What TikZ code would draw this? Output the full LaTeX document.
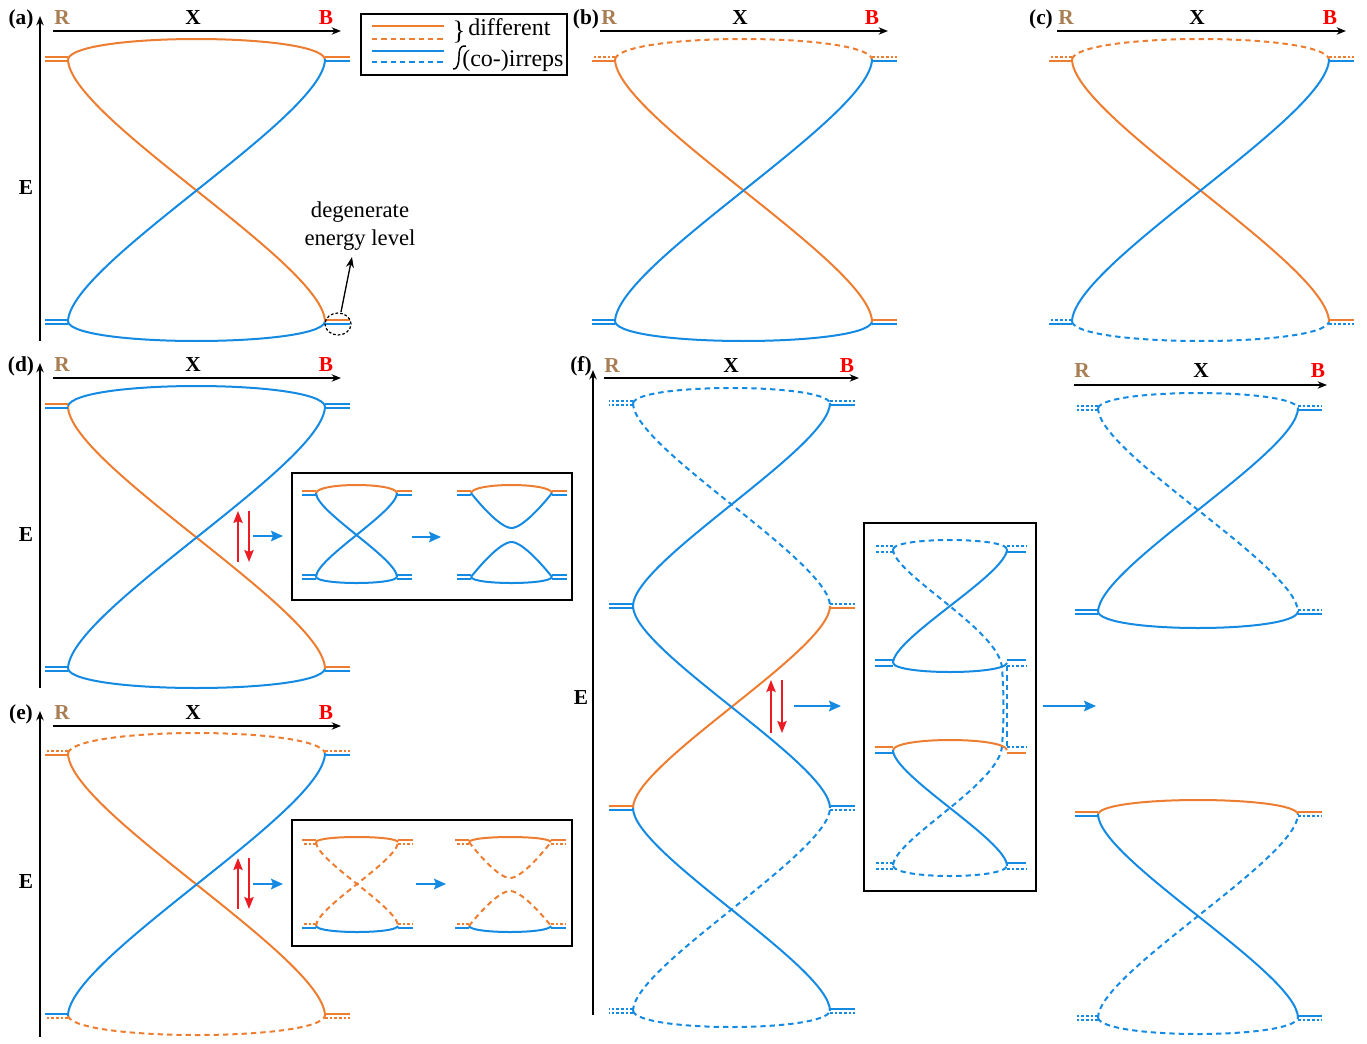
\documentclass[tikz,border=0pt]{standalone}
\usepackage{fontspec}
\setmainfont{Liberation Serif}
\usetikzlibrary{arrows.meta}
\definecolor{ora}{RGB}{237,125,49}
\definecolor{blu}{RGB}{20,138,226}
\definecolor{brn}{RGB}{168,126,84}
\definecolor{rdd}{RGB}{235,28,36}
\definecolor{bred}{RGB}{255,0,0}
\tikzset{
  os/.style={draw=ora,line width=1.5pt},
  od/.style={draw=ora,line width=1.5pt,dash pattern=on 4pt off 3pt},
  bs/.style={draw=blu,line width=1.5pt},
  bd/.style={draw=blu,line width=1.5pt,dash pattern=on 4pt off 3pt},
  ot/.style={draw=ora,line width=1.25pt},
  oo/.style={draw=ora,line width=1.25pt,dash pattern=on 2pt off 1.5pt},
  bt/.style={draw=blu,line width=1.25pt},
  bo/.style={draw=blu,line width=1.25pt,dash pattern=on 2pt off 1.5pt},
  axisarrow/.style={draw=black,line width=1.2pt,-{Stealth[length=7pt,width=5.5pt]}},
  redarrow/.style={draw=rdd,line width=1.3pt,-{Stealth[length=9pt,width=7pt,inset=1.5pt]}},
  bluearrow/.style={draw=blu,line width=1.2pt,-{Stealth[length=9pt,width=8pt,inset=1.5pt]}},
  lab/.style={font=\fontsize{16}{18}\selectfont\bfseries,inner sep=0pt},
  boxframe/.style={draw=black,line width=1.5pt},
}
\newcommand\arcT[5]{\draw[#1] (#2,#4) .. controls ({#2+0.03*(#3-#2)},{#4-1.333*(#5)}) and ({#3-0.03*(#3-#2)},{#4-1.333*(#5)}) .. (#3,#4);}
\newcommand\dg[5]{\draw[#1] (#2,#3) .. controls (#2,{#3+0.22*(#5-#3)}) and (#4,{#5-0.22*(#5-#3)}) .. (#4,#5);}
\newcommand\tk[7]{\draw[#6] ({#1},{#2-#5}) -- ++({#3*#4},0); \draw[#7] ({#1},{#2+#5}) -- ++({#3*#4},0);}
\newcommand\hdr[5]{\node[lab,text=brn] (#1R) at (#2,#5) {R}; \node[lab] (#1X) at (#3,#5) {X}; \node[lab,text=bred] (#1B) at (#4,#5) {B};}
\begin{document}
\begin{tikzpicture}[x=0.75pt,y=-0.75pt]
\useasboundingbox (0,0) rectangle (1367,1043);
% ---------------- (a)
\node[lab] (la) at (21,19) {(a)};
\hdr{a}{62}{193}{326}{18}
\node[lab] (Ea) at (26,188) {E};
\draw[axisarrow] (40,341) -- (40,16);
\draw[axisarrow] (53,31) -- (341,31);
\arcT{os}{68}{325}{59}{20}
\arcT{bs}{68}{325}{322}{-19}
\dg{os}{68}{59}{325}{322}
\dg{bs}{68}{322}{325}{59}
\tk{68}{59}{-1}{23}{2.2}{ot}{ot}
\tk{325}{59}{1}{25}{2.2}{ot}{bt}
\tk{68}{322}{-1}{23}{2.2}{bt}{bt}
\tk{325}{322}{1}{25}{2.2}{ot}{bt}
\draw[black,line width=0.9pt,dash pattern=on 2pt off 1.5pt] (338,324) ellipse [x radius=9.75pt, y radius=8.25pt];
\coordinate (circ) at (341,312);
\node[font=\fontsize{17}{21}\selectfont,align=center,inner sep=0pt] (deg) at (360,226) {degenerate\\energy level};
\draw[black,line width=1pt,-{Stealth[length=8pt,width=6pt]}] (circ) -- (352,257);
% legend
\draw[line width=1pt] (361,14) rectangle (567,75);
\draw[os] (372,26) -- (444,26);
\draw[od] (372,39) -- (444,39);
\draw[bs] (372,51) -- (444,51);
\draw[bd] (372,62) -- (444,62);
\node[font=\fontsize{20}{20}\selectfont,inner sep=0pt] (brace) at (459,32) {\}};
\draw[line width=1.1pt] (466,46) .. controls (460,45) and (459,50) .. (459,56) .. controls (459,64) and (457,70) .. (453,69);
\node[font=\fontsize{18}{20}\selectfont,anchor=base west,inner sep=0pt] (ldiff) at (468,35) {different};
\node[font=\fontsize{18}{20}\selectfont,anchor=base west,inner sep=0pt] (lirr) at (462,66) {(co-)irreps};
% ---------------- (b)
\node[lab] (lb) at (586,19) {(b)};
\hdr{b}{609}{740}{872}{18}
\draw[axisarrow] (600,31) -- (888,31);
\arcT{od}{615}{872}{59}{20}
\arcT{bs}{615}{872}{322}{-19}
\dg{os}{615}{59}{872}{322}
\dg{bs}{615}{322}{872}{59}
\tk{615}{59}{-1}{23}{2.2}{oo}{ot}
\tk{872}{59}{1}{25}{2.2}{oo}{bt}
\tk{615}{322}{-1}{23}{2.2}{bt}{bt}
\tk{872}{322}{1}{25}{2.2}{ot}{bt}
% ---------------- (c)
\node[lab] (lc) at (1041,19) {(c)};
\hdr{c}{1066}{1197}{1330}{18}
\draw[axisarrow] (1057,31) -- (1346,31);
\arcT{od}{1072}{1329}{59}{20}
\arcT{bd}{1072}{1329}{322}{-19}
\dg{os}{1072}{59}{1329}{322}
\dg{bs}{1072}{322}{1329}{59}
\tk{1072}{59}{-1}{23}{2.2}{oo}{ot}
\tk{1329}{59}{1}{25}{2.2}{oo}{bt}
\tk{1072}{322}{-1}{23}{2.2}{bo}{bt}
\tk{1329}{322}{1}{25}{2.2}{ot}{bo}
% ---------------- (d)
\node[lab] (ld) at (21,366) {(d)};
\hdr{d}{62}{193}{326}{365}
\node[lab] (Ed) at (26,535) {E};
\draw[axisarrow] (40,688) -- (40,363);
\draw[axisarrow] (53,378) -- (341,378);
\arcT{bs}{68}{325}{406}{20}
\arcT{bs}{68}{325}{669}{-19}
\dg{os}{68}{406}{325}{669}
\dg{bs}{68}{669}{325}{406}
\tk{68}{406}{-1}{23}{2.2}{ot}{bt}
\tk{325}{406}{1}{25}{2.2}{bt}{bt}
\tk{68}{669}{-1}{23}{2.2}{bt}{bt}
\tk{325}{669}{1}{25}{2.2}{ot}{bt}
\draw[redarrow] (238,562) -- (238,511);
\draw[redarrow] (249,511) -- (249,562);
\draw[bluearrow] (253,536) -- (283,536);
\draw[boxframe] (292,473) rectangle (572,600);
\arcT{os}{316}{397}{493}{8}
\arcT{bs}{316}{397}{577}{-6}
\dg{bs}{316}{493}{397}{577}
\dg{bs}{316}{577}{397}{493}
\tk{316}{493}{-1}{14}{1.8}{ot}{bt}
\tk{397}{493}{1}{15}{1.8}{ot}{bt}
\tk{316}{577}{-1}{14}{1.8}{bt}{bt}
\tk{397}{577}{1}{15}{1.8}{bt}{bt}
\draw[bluearrow] (412,537) -- (441,537);
\arcT{os}{471}{552}{493}{8}
\arcT{bs}{471}{552}{577}{-6}
\draw[bs] (471,493) .. controls (478,502) and (500,528) .. (511.5,528) .. controls (523,528) and (545,502) .. (552,493);
\draw[bs] (471,577) .. controls (478,568) and (500,542) .. (511.5,542) .. controls (523,542) and (545,568) .. (552,577);
\tk{471}{493}{-1}{14}{1.8}{ot}{bt}
\tk{552}{493}{1}{15}{1.8}{ot}{bt}
\tk{471}{577}{-1}{14}{1.8}{bt}{bt}
\tk{552}{577}{1}{15}{1.8}{bt}{bt}
% ---------------- (e)
\node[lab] (le) at (21,714) {(e)};
\hdr{e}{62}{193}{326}{713}
\node[lab] (Ee) at (26,882) {E};
\draw[axisarrow] (40,1037) -- (40,711);
\draw[axisarrow] (53,726) -- (341,726);
\arcT{od}{68}{325}{753}{20}
\arcT{od}{68}{325}{1016}{-19}
\dg{os}{68}{753}{325}{1016}
\dg{bs}{68}{1016}{325}{753}
\tk{68}{753}{-1}{23}{2.2}{oo}{ot}
\tk{325}{753}{1}{25}{2.2}{oo}{bt}
\tk{68}{1016}{-1}{23}{2.2}{bt}{oo}
\tk{325}{1016}{1}{25}{2.2}{ot}{oo}
\draw[redarrow] (238,909) -- (238,858);
\draw[redarrow] (249,858) -- (249,909);
\draw[bluearrow] (253,884) -- (283,884);
\draw[boxframe] (292,820) rectangle (572,946);
\arcT{os}{316}{398}{842}{5}
\arcT{bs}{316}{398}{926}{-6}
\dg{od}{316}{842}{398}{926}
\dg{od}{316}{926}{398}{842}
\tk{316}{842}{-1}{14}{1.8}{ot}{oo}
\tk{398}{842}{1}{15}{1.8}{ot}{oo}
\tk{316}{926}{-1}{14}{1.8}{oo}{bt}
\tk{398}{926}{1}{15}{1.8}{oo}{bt}
\draw[bluearrow] (416,884) -- (446,884);
\arcT{os}{469}{551}{842}{5}
\arcT{bs}{469}{551}{926}{-6}
\draw[od] (469,842) .. controls (476,851) and (498,878) .. (510,878) .. controls (522,878) and (544,851) .. (551,842);
\draw[od] (469,926) .. controls (476,917) and (498,891) .. (510,891) .. controls (522,891) and (544,917) .. (551,926);
\tk{469}{842}{-1}{14}{1.8}{ot}{oo}
\tk{551}{842}{1}{15}{1.8}{ot}{oo}
\tk{469}{926}{-1}{14}{1.8}{oo}{bt}
\tk{551}{926}{1}{15}{1.8}{oo}{bt}
% ---------------- (f)
\node[lab] (lf) at (581,366) {(f)};
\hdr{f}{612}{731}{847}{366}
\node[lab] (Ef) at (581,698) {E};
\draw[axisarrow] (593,1015) -- (593,370);
\draw[axisarrow] (604,378) -- (859,378);
\arcT{bd}{633}{830}{403}{15}
\arcT{bd}{633}{830}{1011}{-16}
\dg{bd}{633}{403}{830}{606}
\dg{bs}{633}{606}{830}{403}
\dg{os}{633}{808}{830}{606}
\dg{bs}{633}{606}{830}{808}
\dg{bd}{633}{1011}{830}{808}
\dg{bs}{633}{808}{830}{1011}
\tk{633}{403}{-1}{24}{2.2}{bo}{bo}
\tk{830}{403}{1}{25}{2.2}{bo}{bt}
\tk{633}{606}{-1}{24}{2.2}{bt}{bt}
\tk{830}{606}{1}{25}{2.2}{bo}{ot}
\tk{633}{808}{-1}{24}{2.2}{ot}{bt}
\tk{830}{808}{1}{25}{2.2}{bt}{bo}
\tk{633}{1011}{-1}{24}{2.2}{bo}{bo}
\tk{830}{1011}{1}{25}{2.2}{bt}{bo}
\draw[redarrow] (771,733) -- (771,680);
\draw[redarrow] (782,680) -- (782,733);
\draw[bluearrow] (794,706) -- (841,706);
% inset f
\draw[boxframe] (864,523) rectangle (1036,891);
\arcT{bd}{893}{1007}{549}{9}
\draw[bd] (893,549) .. controls (893,574) and (1000,630) .. (1002,668) .. controls (1004,696) and (1004,718) .. (1002,746) .. controls (1000,784) and (893,840) .. (893,866);
\dg{bs}{893}{663}{1007}{549}
\arcT{bs}{893}{1007}{663}{-9}
\draw[bd] (1007,666) -- (1007,748);
\arcT{os}{893}{1007}{750}{10}
\dg{bs}{893}{750}{1007}{866}
\arcT{bd}{893}{1007}{866}{-10}
\tk{893}{549}{-1}{18}{2.8}{bo}{bo}
\tk{1007}{549}{1}{19}{2.8}{bo}{bt}
\tk{893}{663}{-1}{18}{2.8}{bt}{bt}
\tk{1007}{663}{1}{19}{2.8}{bt}{bo}
\tk{893}{750}{-1}{18}{2.8}{ot}{bt}
\tk{1007}{750}{1}{19}{2.8}{bo}{ot}
\tk{893}{866}{-1}{18}{2.8}{bo}{bo}
\tk{1007}{866}{1}{19}{2.8}{bt}{bo}
\draw[bluearrow] (1043,706) -- (1096,706);
% ---------------- right column
\hdr{g}{1082}{1201}{1318}{371}
\draw[axisarrow] (1074,385) -- (1327,385);
\arcT{bd}{1098}{1298}{408}{15}
\arcT{bs}{1098}{1298}{612}{-16}
\dg{bd}{1098}{408}{1298}{612}
\dg{bs}{1098}{612}{1298}{408}
\tk{1098}{408}{-1}{23}{2.2}{bo}{bo}
\tk{1298}{408}{1}{24}{2.2}{bo}{bt}
\tk{1098}{612}{-1}{23}{2.2}{bt}{bt}
\tk{1298}{612}{1}{24}{2.2}{bo}{bt}
\arcT{os}{1098}{1298}{814}{14}
\arcT{bd}{1098}{1298}{1018}{-16}
\dg{bd}{1098}{1018}{1298}{814}
\dg{bs}{1098}{814}{1298}{1018}
\tk{1098}{814}{-1}{23}{2.2}{ot}{bt}
\tk{1298}{814}{1}{24}{2.2}{ot}{bo}
\tk{1098}{1018}{-1}{23}{2.2}{bo}{bo}
\tk{1298}{1018}{1}{24}{2.2}{bt}{bo}
\end{tikzpicture}
\end{document}
